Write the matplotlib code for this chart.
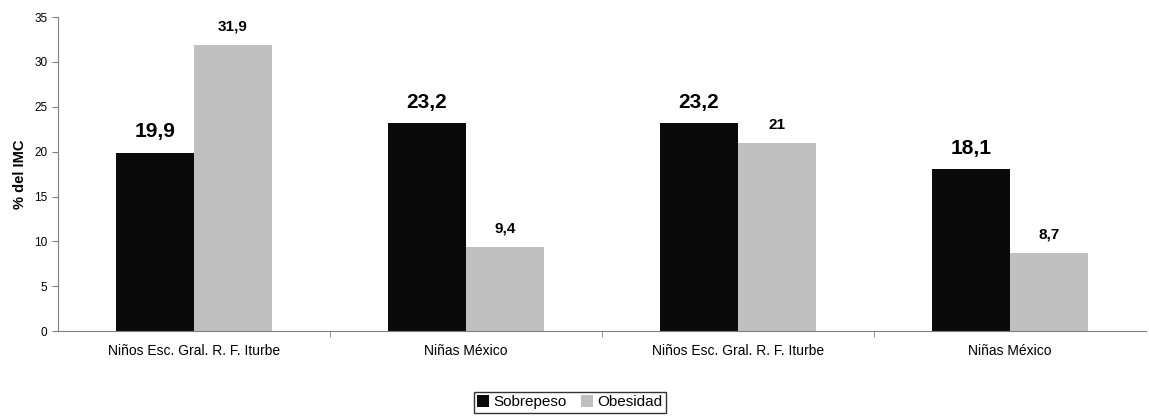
import matplotlib
matplotlib.use("Agg")
import matplotlib.pyplot as plt
import numpy as np

plt.rcParams['font.family'] = ['Liberation Sans', 'DejaVu Sans']

categories = ["Niños Esc. Gral. R. F. Iturbe", "Niñas México",
              "Niños Esc. Gral. R. F. Iturbe", "Niñas México"]
sobrepeso = [19.9, 23.2, 23.2, 18.1]
obesidad = [31.9, 9.4, 21, 8.7]
series_names = ["Sobrepeso", "Obesidad"]


def fmt(v):
    return ("%g" % v).replace(".", ",")


fig = plt.figure(figsize=(11.49, 4.17), dpi=100)
ax = fig.add_axes([0.0505, 0.206, 0.947, 0.753])

x = np.arange(len(categories))
w = 0.287
b1 = ax.bar(x - w / 2, sobrepeso, w, color="#0a0a0a", label=series_names[0])
b2 = ax.bar(x + w / 2, obesidad, w, color="#c0c0c0", label=series_names[1])

for rect, v in zip(b1, sobrepeso):
    ax.annotate(fmt(v), (rect.get_x() + rect.get_width() / 2, v),
                xytext=(0, 8), textcoords="offset points",
                ha="center", va="bottom", fontsize=15, fontweight="bold")
for rect, v in zip(b2, obesidad):
    ax.annotate(fmt(v), (rect.get_x() + rect.get_width() / 2, v),
                xytext=(0, 8), textcoords="offset points",
                ha="center", va="bottom", fontsize=11, fontweight="bold")

ax.set_xlim(-0.5, len(categories) - 0.5)
ax.set_ylim(0, 35)
ax.set_yticks(range(0, 36, 5))
ax.tick_params(axis="y", labelsize=8.5, length=4, color="#808080")
ax.set_xticks(x)
ax.set_xticklabels(categories, fontsize=10)
ax.tick_params(axis="x", length=0, pad=9)
ax.set_xticks(np.arange(0.5, len(categories) - 1, 1), minor=True)
ax.tick_params(axis="x", which="minor", length=4, color="#808080")
ax.set_ylabel("% del IMC", fontsize=10.5, fontweight="bold", labelpad=5)

for s in ["top", "right"]:
    ax.spines[s].set_visible(False)
for s in ["left", "bottom"]:
    ax.spines[s].set_color("#808080")

fig.legend(loc="center", bbox_to_anchor=(0.496, 0.035), ncol=2, fontsize=11,
           frameon=True, fancybox=False, edgecolor="black", handlelength=0.8,
           handleheight=0.8, handletextpad=0.3, columnspacing=0.9,
           borderpad=0.2)

fig.savefig("out.png", dpi=100)
